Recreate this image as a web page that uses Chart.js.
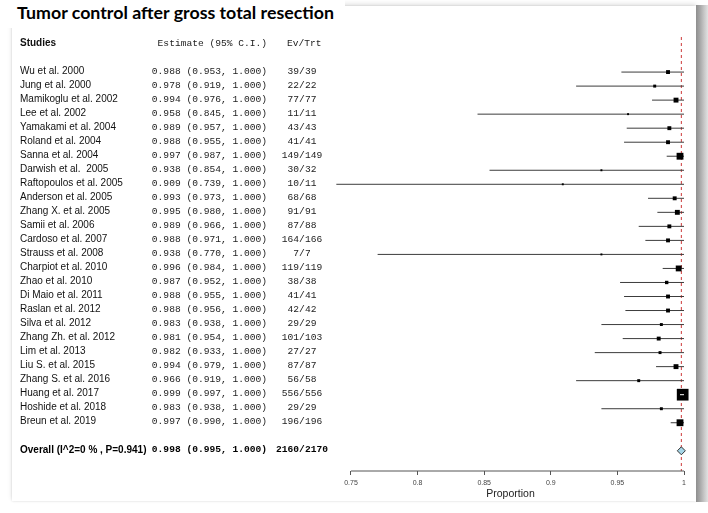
<!DOCTYPE html>
<html><head><meta charset="utf-8">
<script src="https://cdn.jsdelivr.net/npm/chart.js@4"></script>
<style>
html,body{margin:0;padding:0;background:#fff;}
#wrap{position:relative;width:708px;height:513px;overflow:hidden;background:#fff;}
#panel{position:absolute;left:12px;top:6px;width:684px;height:495px;background:#fff;box-shadow:0 -2px 5px rgba(0,0,0,0.12),0 0 2px rgba(0,0,0,0.12);}
#shadowR{position:absolute;left:696px;top:5px;width:12px;height:497px;background:linear-gradient(to right,#8e8e8e 0%,#a9a9a9 35%,#c9c9c9 70%,#e2e2e2 100%);}
#titlebox{position:absolute;left:0;top:0;width:345px;height:28px;background:#fff;}
#title{position:absolute;left:17px;top:3px;margin:0;font-family:Lato,"Open Sans",sans-serif;font-weight:bold;font-size:17.8px;line-height:18px;color:#000;white-space:nowrap;}
canvas{position:absolute;left:0;top:0;}
</style>
</head><body>
<div id="wrap">
  <div id="panel"></div>
  <div id="shadowR"></div>
  <div id="titlebox"><div id="title">Tumor control after gross total resection</div></div>
  <canvas id="c" width="708" height="513"></canvas>
</div>
<script>
const studies = ["Wu et al. 2000","Jung et al. 2000","Mamikoglu et al. 2002","Lee et al. 2002","Yamakami et al. 2004","Roland et al. 2004","Sanna et al. 2004","Darwish et al.  2005","Raftopoulos et al. 2005","Anderson et al. 2005","Zhang X. et al. 2005","Samii et al. 2006","Cardoso et al. 2007","Strauss et al. 2008","Charpiot et al. 2010","Zhao et al. 2010","Di Maio et al. 2011","Raslan et al. 2012","Silva et al. 2012","Zhang Zh. et al. 2012","Lim et al. 2013","Liu S. et al. 2015","Zhang S. et al. 2016","Huang et al. 2017","Hoshide et al. 2018","Breun et al. 2019"];
const estimates = [0.988,0.978,0.994,0.958,0.989,0.988,0.997,0.938,0.909,0.993,0.995,0.989,0.988,0.938,0.996,0.987,0.988,0.988,0.983,0.981,0.982,0.994,0.966,0.999,0.983,0.997];
const lowerCI = [0.953,0.919,0.976,0.845,0.957,0.955,0.987,0.854,0.739,0.973,0.980,0.966,0.971,0.770,0.984,0.952,0.955,0.956,0.938,0.954,0.933,0.979,0.919,0.997,0.938,0.990];
const upperCI = [1.000,1.000,1.000,1.000,1.000,1.000,1.000,1.000,1.000,1.000,1.000,1.000,1.000,1.000,1.000,1.000,1.000,1.000,1.000,1.000,1.000,1.000,1.000,1.000,1.000,1.000];
const evTrt = ["39/39","22/22","77/77","11/11","43/43","41/41","149/149","30/32","10/11","68/68","91/91","87/88","164/166","7/7","119/119","38/38","41/41","42/42","29/29","101/103","27/27","87/87","56/58","556/556","29/29","196/196"];
const weights = [2.8,1.6,4.4,0.7,2.8,2.8,8.6,0.7,0.7,2.8,4.4,2.8,2.8,0.7,6.3,2.1,2.8,2.8,1.6,2.8,1.6,4.4,1.6,25.3,1.6,8.6];
const overallLabel = "Overall (I^2=0 % , P=0.941)";
const overallEst = 0.998, overallLo = 0.995, overallHi = 1.000;
const overallEvTrt = "2160/2170";
const headers = ["Studies","Estimate (95% C.I.)","Ev/Trt"];
const xTickValues = [0.75,0.8,0.85,0.9,0.95,1];
const xTickLabels = ["0.75","0.8","0.85","0.9","0.95","1"];
const xTitle = "Proportion";

// row layout (row index on the y scale)
const HEADER_ROW = -2, OVERALL_ROW = 27;
const Y_MIN = -2.5, Y_MAX = 28.44;
const BOX_K = 2.33;
const boxSide = w => Math.sqrt(w) * BOX_K;

const whiskerData = [];
studies.forEach((s,i)=>{
  whiskerData.push({x:lowerCI[i],y:i},{x:upperCI[i],y:i},{x:upperCI[i],y:null});
});

const fmt = (e,l,h)=> e.toFixed(3)+" ("+l.toFixed(3)+", "+h.toFixed(3)+")";

const tablePlugin = {
  id:'table',
  afterDraw(chart){
    const ctx = chart.ctx, y = chart.scales.y, x = chart.scales.x;
    ctx.save();
    // white CI where CI lies inside box
    studies.forEach((s,i)=>{
      const side = boxSide(weights[i]);
      const px = x.getPixelForValue(estimates[i]);
      const pl = x.getPixelForValue(lowerCI[i]), ph = x.getPixelForValue(upperCI[i]);
      if (pl > px - side/2 && ph < px + side/2){
        const py = y.getPixelForValue(i);
        ctx.strokeStyle = '#fff'; ctx.lineWidth = 1;
        ctx.beginPath(); ctx.moveTo(pl,py); ctx.lineTo(ph,py); ctx.stroke();
      }
    });
    ctx.textBaseline = 'middle';
    ctx.fillStyle = '#111';
    const sans = '10px "Liberation Sans", Arial, sans-serif';
    const mono = '9.6px "Liberation Mono", "Courier New", monospace';
    let py = y.getPixelForValue(HEADER_ROW) - 1;
    ctx.font = 'bold ' + sans; ctx.textAlign = 'left';
    ctx.fillText(headers[0], 20, py);
    ctx.font = mono; ctx.textAlign = 'right'; ctx.fillStyle = '#222';
    ctx.fillText(headers[1], 267, py);
    ctx.textAlign = 'left';
    ctx.fillText(headers[2], 287, py);
    studies.forEach((s,i)=>{
      const py = y.getPixelForValue(i) - 1;
      ctx.font = sans; ctx.textAlign = 'left'; ctx.fillStyle = '#111';
      ctx.fillText(s, 20, py);
      ctx.font = mono; ctx.textAlign = 'right'; ctx.fillStyle = '#222';
      ctx.fillText(fmt(estimates[i],lowerCI[i],upperCI[i]), 267, py);
      ctx.textAlign = 'center';
      ctx.fillText(evTrt[i], 302, py);
    });
    py = y.getPixelForValue(OVERALL_ROW) - 1;
    ctx.font = 'bold ' + sans; ctx.textAlign = 'left'; ctx.fillStyle = '#000';
    ctx.fillText(overallLabel, 20, py);
    ctx.font = 'bold ' + mono; ctx.textAlign = 'right';
    ctx.fillText(fmt(overallEst,overallLo,overallHi), 267, py);
    ctx.textAlign = 'center';
    ctx.fillText(overallEvTrt, 302, py);
    ctx.restore();
  }
};

new Chart(document.getElementById('c'), {
  type:'scatter',
  data:{datasets:[
    {label:'ref', data:[{x:overallEst,y:Y_MIN},{x:overallEst,y:Y_MAX}], showLine:true, borderColor:'#cc3a3a', borderWidth:1, borderDash:[3,3], pointRadius:0, order:5},
    {label:'axis', data:[{x:xTickValues[0],y:Y_MAX},{x:xTickValues[xTickValues.length-1],y:Y_MAX}], showLine:true, borderColor:'#555', borderWidth:1, pointRadius:0, clip:false, order:4},
    {label:'ci', data:whiskerData, showLine:true, spanGaps:false, borderColor:'#3c3c3c', borderWidth:1, pointRadius:0, order:3},
    {label:'boxes', data:estimates.map((e,i)=>({x:e,y:i})), pointStyle:'rect', pointRadius:weights.map(w=>boxSide(w)/Math.SQRT2), backgroundColor:'#000', borderWidth:0, order:2},
    {label:'overall', data:[{x:overallEst,y:OVERALL_ROW}], pointStyle:'rectRot', pointRadius:4, backgroundColor:'#a6d6e8', borderColor:'#333', borderWidth:1, order:1}
  ]},
  options:{
    responsive:false, animation:false, events:[],
    layout:{padding:{left:331,right:18,top:37,bottom:11}},
    plugins:{legend:{display:false},tooltip:{enabled:false}},
    scales:{
      x:{type:'linear', min:0.735, max:1.0045,
        afterBuildTicks(axis){ axis.ticks = xTickValues.map(v=>({value:v})); },
        ticks:{autoSkip:false, maxRotation:0, padding:4, color:'#444', font:{size:7, family:'"Liberation Sans", Arial, sans-serif'}, callback:(v,i)=>xTickLabels[i]},
        grid:{drawOnChartArea:false, drawTicks:true, tickLength:4, color:'#555'},
        border:{display:false},
        title:{display:true, text:xTitle, color:'#222', font:{size:10.5, family:'"Liberation Sans", Arial, sans-serif'}, padding:{top:-4,bottom:2}}
      },
      y:{type:'linear', reverse:true, min:Y_MIN, max:Y_MAX, display:false}
    }
  },
  plugins:[tablePlugin]
});
</script>
</body></html>
